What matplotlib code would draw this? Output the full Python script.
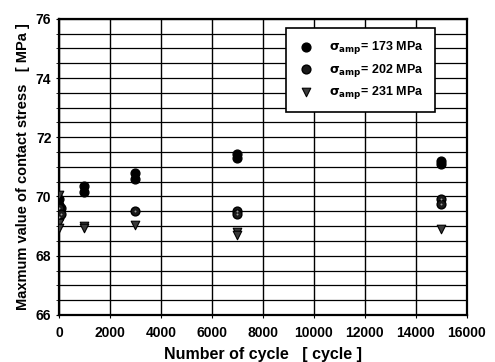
import matplotlib.pyplot as plt
from matplotlib.ticker import MultipleLocator

# data
cycles_173 = [0, 0, 0, 100, 1000, 1000, 3000, 3000, 7000, 7000, 15000, 15000]
stress_173 = [69.9, 69.7, 69.5, 69.6, 70.35, 70.15, 70.8, 70.6, 71.45, 71.3, 71.2, 71.1]

cycles_202 = [0, 0, 100, 3000, 7000, 7000, 15000, 15000]
stress_202 = [69.6, 69.3, 69.4, 69.5, 69.5, 69.4, 69.9, 69.75]

cycles_231 = [0, 0, 0, 1000, 1000, 3000, 7000, 7000, 15000]
stress_231 = [70.05, 69.1, 68.95, 69.0, 68.95, 69.05, 68.8, 68.7, 68.9]

labels = [r"$\mathbf{\sigma_{amp}}$= 173 MPa",
          r"$\mathbf{\sigma_{amp}}$= 202 MPa",
          r"$\mathbf{\sigma_{amp}}$= 231 MPa"]

plt.rcParams["font.family"] = ["Liberation Sans", "DejaVu Sans"]
plt.rcParams["font.weight"] = "bold"

fig = plt.figure(figsize=(4.95, 3.62), dpi=100)
ax = fig.add_axes([0.119, 0.130, 0.824, 0.818])

ax.scatter(cycles_173, stress_173, s=40, marker="o", color="black",
           zorder=3, label=labels[0])
ax.scatter(cycles_202, stress_202, s=40, marker="o", color="#1a1a1a",
           edgecolor="black", zorder=3, label=labels[1])
ax.scatter(cycles_202, stress_202, s=2, marker="o", color="#9a9a9a",
           linewidth=0, zorder=4)
ax.scatter(cycles_231, stress_231, s=38, marker="v", color="#3a3a3a",
           edgecolor="black", linewidth=0.8, zorder=3, label=labels[2])

ax.set_xlim(0, 16000)
ax.set_ylim(66, 76)
ax.xaxis.set_major_locator(MultipleLocator(2000))
ax.yaxis.set_major_locator(MultipleLocator(2))
ax.yaxis.set_minor_locator(MultipleLocator(0.5))
ax.grid(which="major", axis="x", color="black", linewidth=1.0)
ax.grid(which="both", axis="y", color="black", linewidth=0.9)
ax.set_axisbelow(True)
for sp in ax.spines.values():
    sp.set_linewidth(1.6)
ax.tick_params(which="both", length=2, labelsize=10)
ax.tick_params(axis="x", pad=6)
for lbl in ax.get_xticklabels() + ax.get_yticklabels():
    lbl.set_fontweight("bold")

ax.set_xlabel("Number of cycle   [ cycle ]", fontsize=11.5, fontweight="bold",
              labelpad=5)
ax.set_ylabel("Maxmum value of contact stress   [ MPa ]", fontsize=10.5,
              fontweight="bold")

leg = ax.legend(loc="upper right", bbox_to_anchor=(0.922, 0.97), frameon=True,
                fancybox=False, fontsize=9, handletextpad=1.2,
                borderpad=0.9, labelspacing=0.45, handlelength=1.4,
                borderaxespad=0)
leg.get_frame().set_edgecolor("black")
leg.get_frame().set_linewidth(1.2)
leg.get_frame().set_alpha(1.0)
for t in leg.get_texts():
    t.set_fontweight("bold")

fig.savefig("out.png", dpi=100)
